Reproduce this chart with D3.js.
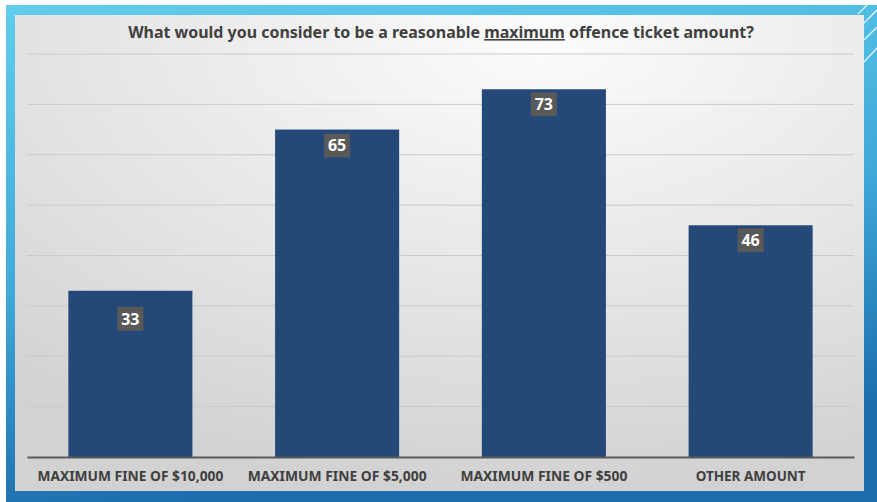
<!DOCTYPE html>
<html><head><meta charset="utf-8">
<script src="https://cdn.jsdelivr.net/npm/d3@7"></script>
<style>html,body{margin:0;padding:0;background:#fff;overflow:hidden}</style>
</head><body>
<svg id="chart" width="877" height="502"></svg>
<script>
const categories = ["MAXIMUM FINE OF $10,000", "MAXIMUM FINE OF $5,000", "MAXIMUM FINE OF $500", "OTHER AMOUNT"];
const values = [33, 65, 73, 46];
const yTicks = [0, 10, 20, 30, 40, 50, 60, 70, 80];
const titleParts = ["What would you consider to be a reasonable ", "maximum", " offence ticket amount?"];

const W = 877, H = 502;
const svg = d3.select("#chart");
const defs = svg.append("defs");

const fg = defs.append("linearGradient").attr("id","frame").attr("x1",0).attr("y1",0).attr("x2",0.25).attr("y2",1);
fg.append("stop").attr("offset","0%").attr("stop-color","#61cdeb");
fg.append("stop").attr("offset","55%").attr("stop-color","#3fa9d8");
fg.append("stop").attr("offset","100%").attr("stop-color","#1b6cab");

const pg = defs.append("radialGradient").attr("id","panel").attr("cx","0.62").attr("cy","0.05").attr("r","0.95")
  .attr("gradientUnits","objectBoundingBox");
pg.append("stop").attr("offset","0%").attr("stop-color","#fcfcfc");
pg.append("stop").attr("offset","55%").attr("stop-color","#e6e6e6");
pg.append("stop").attr("offset","100%").attr("stop-color","#d2d2d2");

// frame
svg.append("rect").attr("x",6).attr("y",5).attr("width",W-6).attr("height",H-5).attr("fill","url(#frame)");
// decorative lines top-right
[[858,14,877,-5],[862,25,877,10],[864,40,877,27],[864,62,877,48]].forEach(l=>{
  svg.append("line").attr("x1",l[0]).attr("y1",l[1]).attr("x2",l[2]).attr("y2",l[3])
    .attr("stroke","#ffffff").attr("stroke-width",1.3).attr("opacity",0.85);
});
// panel
svg.append("rect").attr("x",15).attr("y",15).attr("width",849).attr("height",476).attr("fill","url(#panel)");

const m = {left:27, right:854, top:54, bottom:457};
const x = d3.scaleBand().domain(categories).range([m.left, m.right]).paddingInner(0.4).paddingOuter(0.2);
const y = d3.scaleLinear().domain([0, 80]).range([m.bottom, m.top]);

// gridlines
svg.append("g").selectAll("line").data(yTicks.filter(t=>t>0)).join("line")
  .attr("x1", m.left).attr("x2", m.right)
  .attr("y1", d=>y(d)).attr("y2", d=>y(d))
  .attr("stroke","#cbcbcb").attr("stroke-width",1);

// bars
svg.append("g").selectAll("rect").data(values).join("rect")
  .attr("x",(d,i)=>x(categories[i])).attr("width",x.bandwidth())
  .attr("y",d=>y(d)).attr("height",d=>y(0)-y(d))
  .attr("fill","#244878");

// baseline axis
const xAxis = d3.axisBottom(x).tickSize(0).tickPadding(12);
const ax = svg.append("g").attr("transform",`translate(0,${m.bottom})`).call(xAxis);
ax.select(".domain").attr("stroke","#5a5a5a").attr("stroke-width",2);
ax.selectAll("text").attr("font-family","'Noto Sans', sans-serif").attr("font-weight",700)
  .attr("font-size",13).attr("fill","#404040").attr("dy","0.9em");

// data labels
const labelDy = [28, 16, 15, 15];
const lg = svg.append("g").selectAll("g").data(values).join("g")
  .attr("transform",(d,i)=>`translate(${x(categories[i])+x.bandwidth()/2},${y(d)+labelDy[i]})`);
lg.append("rect").attr("x",-13).attr("y",-12).attr("width",26).attr("height",24).attr("fill","#595959");
lg.append("text").attr("text-anchor","middle").attr("dy","0.36em")
  .attr("font-family","'Noto Sans', sans-serif").attr("font-weight",700).attr("font-size",16)
  .attr("fill","#ffffff").text(d=>d);

// title
const title = svg.append("text").attr("x",441).attr("y",38).attr("text-anchor","middle")
  .attr("font-family","'Noto Sans', sans-serif").attr("font-weight",700).attr("font-size",15)
  .attr("fill","#404040");
titleParts.forEach((t,i)=>{
  const ts = title.append("tspan").text(t);
  if(i===1) ts.attr("text-decoration","underline");
});
const tw = title.node().getComputedTextLength();
title.attr("font-size", 15*626/tw);
ax.selectAll(".tick text").each(function(d,i){
  const target = [186,179,167,110][i];
  const w = this.getComputedTextLength();
  d3.select(this).attr("font-size", 13*target/w);
});
</script>
</body></html>
